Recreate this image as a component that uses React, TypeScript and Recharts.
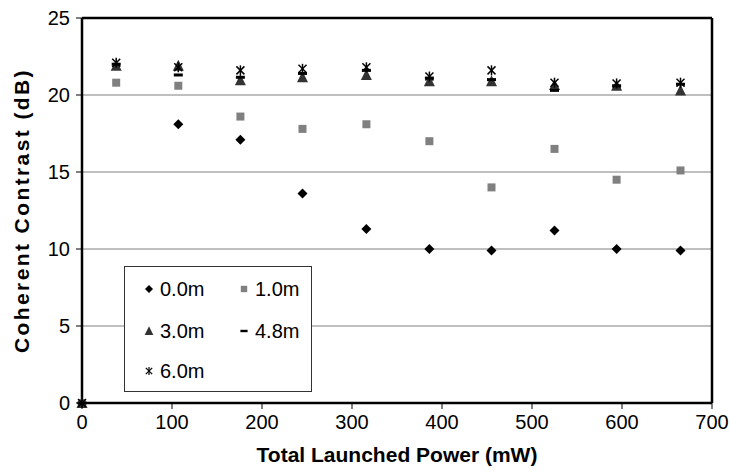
import {
  ScatterChart,
  Scatter,
  XAxis,
  YAxis,
  CartesianGrid,
  ReferenceLine,
} from "recharts";

const powerMw = [0, 38, 107, 176, 245, 316, 386, 455, 525, 594, 665];
const contrast00 = [0, null, 18.1, 17.1, 13.6, 11.3, 10.0, 9.9, 11.2, 10.0, 9.9];
const contrast10 = [0, 20.8, 20.6, 18.6, 17.8, 18.1, 17.0, 14.0, 16.5, 14.5, 15.1];
const contrast30 = [0, 21.9, 21.9, 20.95, 21.15, 21.3, 20.9, 20.9, 20.65, 20.6, 20.3];
const contrast48 = [0, 22.0, 21.3, 21.15, 21.4, 21.6, 21.1, 21.0, 20.3, 20.6, 20.7];
const contrast60 = [0, 22.1, 21.8, 21.6, 21.7, 21.8, 21.2, 21.6, 20.8, 20.75, 20.8];
const seriesNames = ["0.0m", "1.0m", "3.0m", "4.8m", "6.0m"];
const xTicks = [0, 100, 200, 300, 400, 500, 600, 700];
const yTicks = [0, 5, 10, 15, 20, 25];

const FONT = "'Liberation Sans', Arial, sans-serif";

const toPoints = (ys: (number | null)[]) =>
  ys
    .map((y, i) => ({ x: powerMw[i], y }))
    .filter((p) => p.y !== null);

const Diamond = ({ cx, cy }: any) => (
  <polygon
    points={`${cx},${cy - 5} ${cx + 5},${cy} ${cx},${cy + 5} ${cx - 5},${cy}`}
    fill="#000"
  />
);
const Square = ({ cx, cy }: any) => (
  <rect x={cx - 4} y={cy - 4} width={8} height={8} fill="#808080" />
);
const Triangle = ({ cx, cy }: any) => (
  <polygon
    points={`${cx},${cy - 6} ${cx + 5.5},${cy + 5} ${cx - 5.5},${cy + 5}`}
    fill="#333"
  />
);
const Dash = ({ cx, cy }: any) => (
  <rect x={cx - 4.5} y={cy - 1.5} width={9} height={3} fill="#000" />
);
const Star = ({ cx, cy }: any) => (
  <g stroke="#000" strokeWidth={1.5}>
    <line x1={cx - 4} y1={cy - 4} x2={cx + 4} y2={cy + 4} />
    <line x1={cx - 4} y1={cy + 4} x2={cx + 4} y2={cy - 4} />
    <line x1={cx} y1={cy - 5} x2={cx} y2={cy + 5} />
  </g>
);

const shapes = [Diamond, Square, Triangle, Dash, Star];
const series = [contrast00, contrast10, contrast30, contrast48, contrast60];

const legendPos = [
  { left: 24, top: 22 },
  { left: 119, top: 22 },
  { left: 24, top: 64 },
  { left: 119, top: 64 },
  { left: 24, top: 104 },
];

const LegendBox = () => (
  <div
    style={{
      position: "absolute",
      left: 124,
      top: 266,
      width: 188,
      height: 126,
      border: "1px solid #333",
      background: "#fff",
      boxSizing: "border-box",
    }}
  >
    {seriesNames.map((name, i) => {
      const Shape = shapes[i];
      return (
        <div
          key={name}
          style={{
            position: "absolute",
            left: legendPos[i].left - 8,
            top: legendPos[i].top - 12,
            display: "flex",
            alignItems: "center",
            height: 24,
          }}
        >
          <svg width={16} height={16} style={{ marginRight: 3 }}>
            <g transform="translate(8,8) scale(0.8) translate(-8,-8)">
              <Shape cx={8} cy={8} />
            </g>
          </svg>
          <span style={{ fontSize: 20, fontFamily: FONT, color: "#000" }}>
            {name}
          </span>
        </div>
      );
    })}
  </div>
);

export default function App() {
  return (
    <div
      style={{
        position: "absolute",
        left: 0,
        top: 0,
        width: 730,
        height: 474,
        background: "#fff",
      }}
    >
      <ScatterChart
        width={730}
        height={474}
        margin={{ top: 18, right: 18, bottom: 0, left: 0 }}
        style={{ fontFamily: FONT }}
      >
        <CartesianGrid
          horizontal
          vertical={false}
          stroke="#808080"
          strokeWidth={1.2}
        />
        <XAxis
          type="number"
          dataKey="x"
          domain={[0, 700]}
          ticks={xTicks}
          height={71}
          tickSize={6}
          tickMargin={6}
          axisLine={{ stroke: "#000", strokeWidth: 2.5 }}
          tickLine={{ stroke: "#000" }}
          tick={{ fill: "#000", fontSize: 20, fontFamily: FONT }}
          label={{
            value: "Total Launched Power (mW)",
            position: "insideBottom",
            offset: 12,
            style: { fill: "#000", fontSize: 21, fontWeight: "bold", fontFamily: FONT },
          }}
        />
        <YAxis
          type="number"
          dataKey="y"
          domain={[0, 25]}
          ticks={yTicks}
          width={82}
          tickSize={6}
          tickMargin={6}
          axisLine={{ stroke: "#000", strokeWidth: 2.5 }}
          tickLine={{ stroke: "#000" }}
          tick={{ fill: "#000", fontSize: 20, fontFamily: FONT }}
          label={{
            value: "Coherent Contrast (dB)",
            angle: -90,
            position: "insideLeft",
            offset: 22,
            style: {
              fill: "#000",
              fontSize: 21,
              fontWeight: "bold",
              fontFamily: FONT,
              textAnchor: "middle",
              letterSpacing: 2.4,
            },
          }}
        />
        <ReferenceLine y={25} stroke="#000" strokeWidth={2.5} />
        <ReferenceLine x={700} stroke="#000" strokeWidth={2.5} />
        {series.map((ys, i) => (
          <Scatter
            key={seriesNames[i]}
            name={seriesNames[i]}
            data={toPoints(ys)}
            shape={shapes[i]}
            isAnimationActive={false}
          />
        ))}
      </ScatterChart>
      <LegendBox />
    </div>
  );
}
